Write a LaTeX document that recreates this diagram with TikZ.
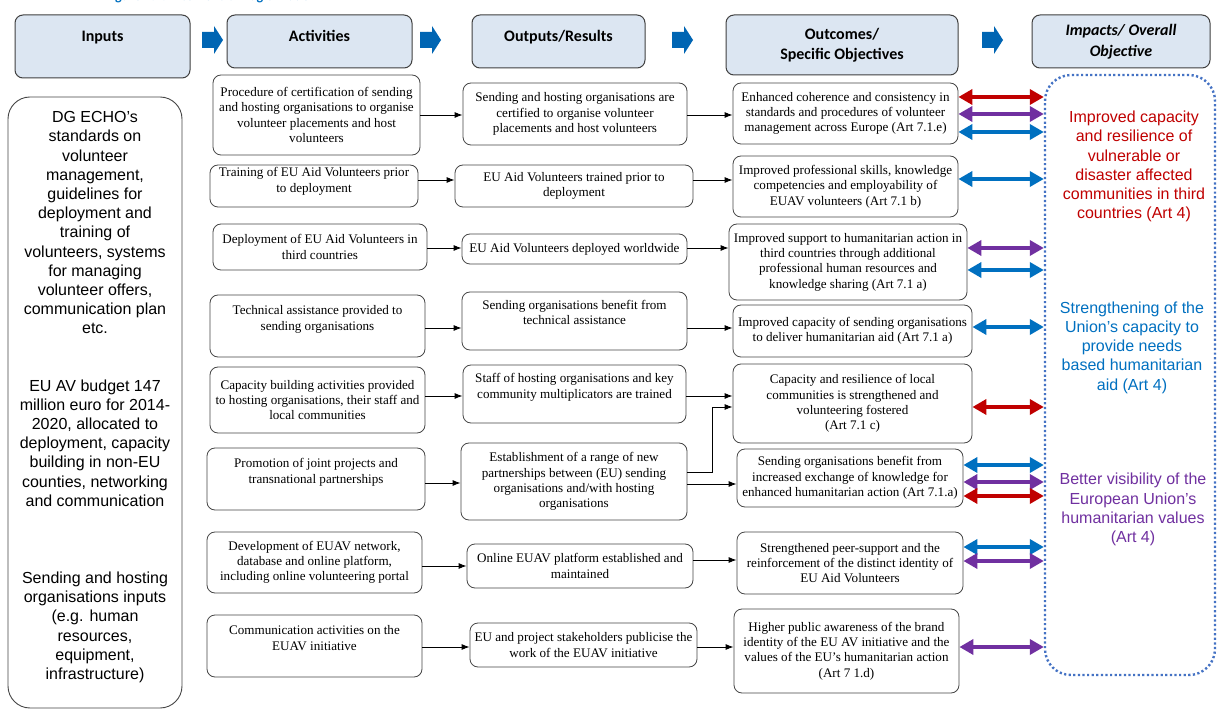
\documentclass[tikz,border=0pt]{standalone}
\usepackage{fontspec}
\setmainfont{Liberation Serif}
\newfontfamily\arialf{Liberation Sans}
\newfontfamily\calf{Carlito}
\usetikzlibrary{arrows.meta}
\definecolor{hdrfill}{RGB}{220,230,242}
\definecolor{hdrline}{RGB}{64,64,64}
\definecolor{arrblue}{RGB}{0,101,179}
\definecolor{cred}{RGB}{192,0,0}
\definecolor{cpurple}{RGB}{112,48,160}
\definecolor{cblue}{RGB}{0,112,192}
\definecolor{dotblue}{RGB}{68,114,196}
\definecolor{boxline}{RGB}{70,70,70}
\definecolor{titleblue}{RGB}{0,112,192}
\newcommand{\boxfont}{\fontsize{13.1}{15.3}\selectfont}
\newcommand{\inpfont}{\arialf\fontsize{16}{19.2}\selectfont}
\newcommand{\hdrfont}{\calf\bfseries\fontsize{16}{20}\selectfont}
\tikzset{
  hdr/.style={draw=hdrline, fill=hdrfill, rounded corners=8pt, line width=1pt, font=\hdrfont, align=center, inner sep=0pt},
  bx/.style={draw=boxline, rounded corners=8pt, line width=0.8pt, font=\boxfont, align=center, inner sep=0pt},
  conn/.style={-{Latex[length=8pt,width=6pt]}, line width=0.9pt, black},
  dbl/.style={{Triangle[length=14pt,width=15pt]}-{Triangle[length=14pt,width=15pt]}, line width=4.2pt, draw=#1},
  imptext/.style={font=\arialf\fontsize{16}{19.2}\selectfont, align=center, inner sep=0pt},
  hdrarrow/.pic={\fill[arrblue] (0,-8) -- (12,-8) -- (12,-14) -- (21,0) -- (12,14) -- (12,8) -- (0,8) -- cycle;}
}
\begin{document}
\begin{tikzpicture}[x=1pt,y=-1pt]
\useasboundingbox[fill=white] (0,0) rectangle (1219,711);
\begin{scope}
\clip (0,0) rectangle (1219,711);
\node[font=\calf\bfseries\fontsize{14}{16}\selectfont, text=titleblue, anchor=base west, inner sep=0pt] (title) at (105,0.6) {Figure 2.1: Intervention logic model};
\end{scope}

% headers
\node[hdr, minimum width=175pt, minimum height=63pt, text height=12pt, text depth=22.6pt] (hin) at (102.5,46.5) {Inputs};
\node[hdr, minimum width=185pt, minimum height=53pt, text height=12pt, text depth=12.6pt] (hact) at (319.5,41.5) {Activities};
\node[hdr, minimum width=173pt, minimum height=53pt, text height=12pt, text depth=12.6pt] (hout) at (558.5,41.5) {Outputs/Results};
\node[hdr, minimum width=232pt, minimum height=60pt] (hoc) at (842,45) {Outcomes/\\Specific Objectives};
\node[hdr, minimum width=178pt, minimum height=53pt, font=\calf\bfseries\itshape\fontsize{16}{21}\selectfont] (him) at (1121,41.5) {Impacts/ Overall\\Objective};
\pic (ar1) at (202,40) {hdrarrow};
\pic (ar2) at (420,40) {hdrarrow};
\pic (ar3) at (672,40) {hdrarrow};
\pic (ar4) at (982,40) {hdrarrow};

% inputs
\node[draw=boxline, line width=0.9pt, rounded corners=22pt, minimum width=174pt, minimum height=611pt, font=\inpfont, align=center, inner sep=0pt, text depth=14pt] (inbox) at (95,402.5) {DG ECHO’s\\standards on\\volunteer\\management,\\guidelines for\\deployment and\\training of\\volunteers, systems\\for managing\\volunteer offers,\\communication plan\\etc.\\[38pt]EU AV budget 147\\million euro for 2014-\\2020, allocated to\\deployment, capacity\\building in non-EU\\counties, networking\\and communication\\[58pt]Sending and hosting\\organisations inputs\\(e.g. human\\resources,\\equipment,\\infrastructure)};

% activities
\node[bx, minimum width=207pt, minimum height=80pt] (a1) at (316.5,115) {Procedure of certification of sending\\and hosting organisations to organise\\volunteer placements and host\\volunteers};
\node[bx, minimum width=208pt, minimum height=42pt, text depth=12pt] (a2) at (314,186) {Training of EU Aid Volunteers prior\\to deployment};
\node[bx, minimum width=214pt, minimum height=46pt] (a3) at (320,247) {Deployment of EU Aid Volunteers in\\third countries};
\node[bx, minimum width=215pt, minimum height=62pt, text depth=16pt] (a4) at (317.5,326) {Technical assistance provided to\\sending organisations};
\node[bx, minimum width=215pt, minimum height=66pt] (a5) at (317.5,400) {Capacity building activities provided\\to hosting organisations, their staff and\\local communities};
\node[bx, minimum width=218pt, minimum height=62pt, text depth=16pt] (a6) at (316,479) {Promotion of joint projects and\\transnational partnerships};
\node[bx, minimum width=215pt, minimum height=61pt] (a7) at (314.5,562.5) {Development of EUAV network,\\database and online platform,\\including online volunteering portal};
\node[bx, minimum width=215pt, minimum height=62pt, text depth=16pt] (a8) at (314.5,646) {Communication activities on the\\EUAV initiative};

% outputs
\node[bx, minimum width=224pt, minimum height=62pt] (o1) at (575,114) {Sending and hosting organisations are\\certified to organise volunteer\\placements and host volunteers};
\node[bx, minimum width=238pt, minimum height=42pt] (o2) at (574,186) {EU Aid Volunteers trained prior to\\deployment};
\node[bx, minimum width=225pt, minimum height=30pt] (o3) at (574.5,249) {EU Aid Volunteers deployed worldwide};
\node[bx, minimum width=225pt, minimum height=58pt, text depth=17pt] (o4) at (574.5,321) {Sending organisations benefit from\\technical assistance};
\node[bx, minimum width=223pt, minimum height=58pt, text depth=16.5pt] (o5) at (574.5,394) {Staff of hosting organisations and key\\community multiplicators are trained};
\node[bx, minimum width=226pt, minimum height=77pt] (o6) at (574,481.5) {Establishment of a range of new\\partnerships between (EU) sending\\organisations and/with hosting\\organisations};
\node[bx, minimum width=226pt, minimum height=44pt] (o7) at (580,566) {Online EUAV platform established and\\maintained};
\node[bx, minimum width=227pt, minimum height=44pt] (o8) at (583.5,645) {EU and project stakeholders publicise the\\work of the EUAV initiative};

% outcomes
\node[bx, minimum width=225pt, minimum height=61pt] (c1) at (845.5,113.5) {Enhanced coherence and consistency in\\standards and procedures of volunteer\\management across Europe (Art 7.1.e)};
\node[bx, minimum width=225pt, minimum height=61pt] (c2) at (845.5,186.5) {Improved professional skills, knowledge\\competencies and employability of\\EUAV volunteers (Art 7.1 b)};
\node[bx, minimum width=238pt, minimum height=76pt] (c3) at (848,262) {Improved support to humanitarian action in\\third countries through additional\\professional human resources and\\knowledge sharing (Art 7.1 a)};
\node[bx, minimum width=239pt, minimum height=52pt] (c4) at (852.5,331) {Improved capacity of sending organisations\\to deliver humanitarian aid (Art 7.1 a)};
\node[bx, minimum width=239pt, minimum height=79pt] (c5) at (852.5,403.5) {Capacity and resilience of local\\communities is strengthened and\\volunteering fostered\\(Art 7.1 c)};
\node[bx, minimum width=226pt, minimum height=58pt] (c6) at (850,478) {Sending organisations benefit from\\increased exchange of knowledge for\\enhanced humanitarian action (Art 7.1.a)};
\node[bx, minimum width=226pt, minimum height=62pt] (c7) at (850,563) {Strengthened peer-support and the\\reinforcement of the distinct identity of\\EU Aid Volunteers};
\node[bx, minimum width=225pt, minimum height=84pt] (c8) at (846.5,651) {Higher public awareness of the brand\\identity of the EU AV initiative and the\\values of the EU’s humanitarian action\\(Art 7 1.d)};

% impacts
\node[draw=dotblue, line width=2.4pt, dash pattern=on 2.2pt off 2.4pt, rounded corners=26pt, minimum width=170pt, minimum height=600pt, inner sep=0pt] (imp) at (1130,375) {};
\node[imptext, text=cred] (im1) at (1134,166.5) {Improved capacity\\and resilience of\\vulnerable or\\disaster affected\\communities in third\\countries (Art 4)};
\node[imptext, text=cblue] (im2) at (1132,347.5) {Strengthening of the\\Union’s capacity to\\provide needs\\based humanitarian\\aid (Art 4)};
\node[imptext, text=cpurple] (im3) at (1133,509.5) {Better visibility of the\\European Union’s\\humanitarian values\\(Art 4)};

% activity -> output
\draw[conn] (a1.east |- 0,115) -- (o1.west |- 0,115);
\draw[conn] (a2.east |- 0,180) -- (o2.west |- 0,180);
\draw[conn] (a3.east |- 0,248) -- (o3.west |- 0,248);
\draw[conn] (a4.east |- 0,328) -- (o4.west |- 0,328);
\draw[conn] (a5.east |- 0,396) -- (o5.west |- 0,396);
\draw[conn] (a6.east |- 0,483) -- (o6.west |- 0,483);
\draw[conn] (a7.east |- 0,566) -- (o7.west |- 0,566);
\draw[conn] (a8.east |- 0,647) -- (o8.west |- 0,647);

% output -> outcome
\coordinate (elb) at (712,440);
\draw[conn] (o1.east |- 0,115) -- (c1.west |- 0,115);
\draw[conn] (o2.east |- 0,180) -- (c2.west |- 0,180);
\draw[conn] (o3.east |- 0,248) -- (c3.west |- 0,248);
\draw[conn] (o4.east |- 0,328) -- (c4.west |- 0,328);
\draw[conn] (o5.east |- 0,396) -- (c5.west |- 0,396);
\draw[conn] (o6.east |- 0,472) -| (elb |- 0,407) -- (c5.west |- 0,407);
\draw[conn] (o6.east |- 0,484) -- (c6.west |- 0,484);
\draw[conn] (o7.east |- 0,560) -- (c7.west |- 0,560);
\draw[conn] (o8.east |- 0,647) -- (c8.west |- 0,647);

% outcome <-> impact
\draw[dbl=cred] (c1.east |- 0,97) -- (imp.west |- 0,97);
\draw[dbl=cpurple] (c1.east |- 0,114) -- (imp.west |- 0,114);
\draw[dbl=cblue] (c1.east |- 0,132) -- (imp.west |- 0,132);
\draw[dbl=cblue] (c2.east |- 0,179) -- (imp.west |- 0,179);
\draw[dbl=cpurple] (c3.east |- 0,248) -- (imp.west |- 0,248);
\draw[dbl=cblue] (c3.east |- 0,270) -- (imp.west |- 0,270);
\draw[dbl=cblue] (c4.east |- 0,327) -- (imp.west |- 0,327);
\draw[dbl=cred] (c5.east |- 0,407) -- (imp.west |- 0,407);
\draw[dbl=cblue] (c6.east |- 0,465) -- (imp.west |- 0,465);
\draw[dbl=cpurple] (c6.east |- 0,482) -- (imp.west |- 0,482);
\draw[dbl=cred] (c6.east |- 0,496) -- (imp.west |- 0,496);
\draw[dbl=cblue] (c7.east |- 0,547) -- (imp.west |- 0,547);
\draw[dbl=cpurple] (c7.east |- 0,561) -- (imp.west |- 0,561);
\draw[dbl=cpurple] (c8.east |- 0,647) -- (imp.west |- 0,647);
\end{tikzpicture}
\end{document}
